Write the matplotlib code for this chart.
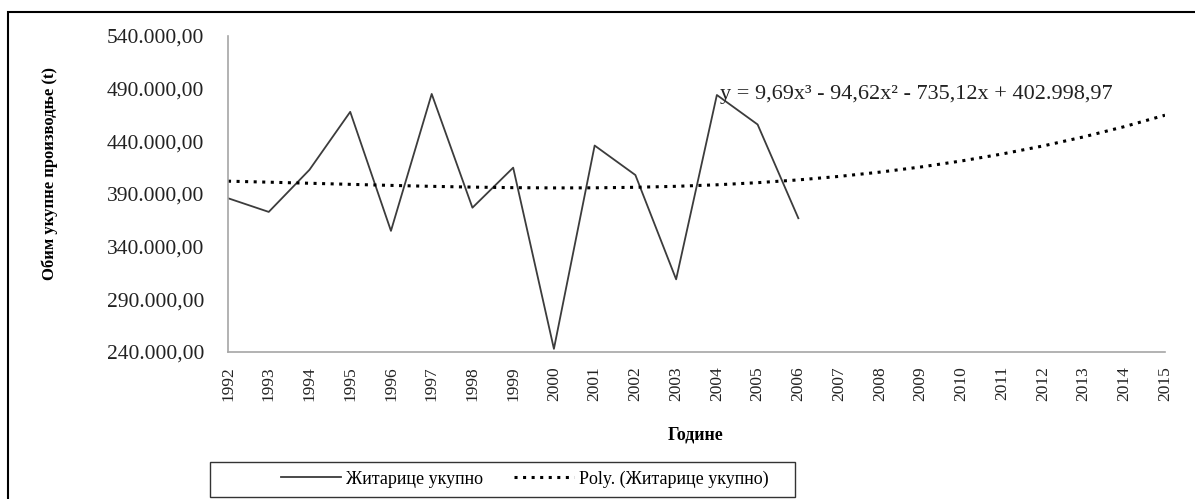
import numpy as np
import matplotlib
matplotlib.use("Agg")
import matplotlib.pyplot as plt
from matplotlib.patches import Rectangle
from matplotlib.ticker import FuncFormatter

# ----------------------------------------
# Data
# ----------------------------------------
years = list(range(1992, 2007))
all_years = list(range(1992, 2016))
production = [386000, 373000, 413000, 468000, 355000, 485000, 377000, 415000,
              243000, 436000, 408000, 309000, 484000, 456000, 367000]

# trend coefficients from the chart label (x = 1 for 1992)
poly_coefs = [9.69, -94.62, -735.12, 402998.97]

y_ticks = [240000, 290000, 340000, 390000, 440000, 490000, 540000]

plt.rcParams['font.family'] = ['Liberation Serif', 'DejaVu Serif']

W, H = 1195, 499
fig = plt.figure(figsize=(W / 100, H / 100), dpi=100)
ax = fig.add_axes([228 / W, 1 - 352 / H, (1165 - 228) / W, (352 - 36) / H])

ax.plot(years, production, color="#3c3c3c", lw=1.3, label="Житарице укупно")

x_idx = np.arange(1, len(all_years) + 1)
trend = np.polyval(poly_coefs, x_idx)
ax.plot(all_years, trend, color="black", lw=2.2, linestyle=(0, (1, 1.8)),
        label="Poly. (Житарице укупно)")

ax.set_xlim(all_years[0], all_years[-1])
ax.set_ylim(y_ticks[0], y_ticks[-1])
ax.set_xticks(all_years)
ax.set_xticklabels([str(y) for y in all_years], rotation=90, fontsize=12.5)
ax.set_yticks(y_ticks)


def fmt(v, pos):
    s = f"{v:,.2f}"
    return s.replace(",", "X").replace(".", ",").replace("X", ".")


ax.yaxis.set_major_formatter(FuncFormatter(fmt))
ax.tick_params(axis='y', length=0, pad=17, labelsize=15.5, colors="#222222")
ax.tick_params(axis='x', length=0, pad=10, colors="#222222")

for side in ["top", "right"]:
    ax.spines[side].set_visible(False)
for side in ["left", "bottom"]:
    ax.spines[side].set_color("#a6a6a6")
    ax.spines[side].set_linewidth(1.2)

ax.text((720 - 228) / 937, (352 - 95) / 316,
        "y = 9,69x³ - 94,62x² - 735,12x + 402.998,97",
        transform=ax.transAxes, fontsize=16, va="center", ha="left",
        color="#222222")

fig.text(50 / W, 1 - 173 / H, "Обим укупне производње (t)", rotation=90,
         ha="center", va="center", fontsize=12, fontweight="bold")
fig.text(696 / W, 1 - 435 / H, "Године", ha="center", va="center",
         fontsize=13, fontweight="bold")

# legend: frameless entries inside a separately drawn box
handles, labels = ax.get_legend_handles_labels()
leg = fig.legend(handles, labels, loc="center", ncol=2,
                 bbox_to_anchor=(525 / W, 1 - 479 / H),
                 fontsize=13, frameon=False, handlelength=3.3,
                 handletextpad=0.3, columnspacing=1.7, borderaxespad=0)
fig.patches.append(Rectangle((210 / W, 1 - 497 / H), (795 - 210) / W, 35 / H,
                             transform=fig.transFigure, fill=False,
                             edgecolor="#333333", lw=1.0))

# outer border
fig.patches.append(Rectangle((8 / W, -0.1), 1.2, 1.1 - 12 / H,
                             transform=fig.transFigure, fill=False,
                             edgecolor="black", lw=1.5))

fig.savefig("out.png", dpi=100)
